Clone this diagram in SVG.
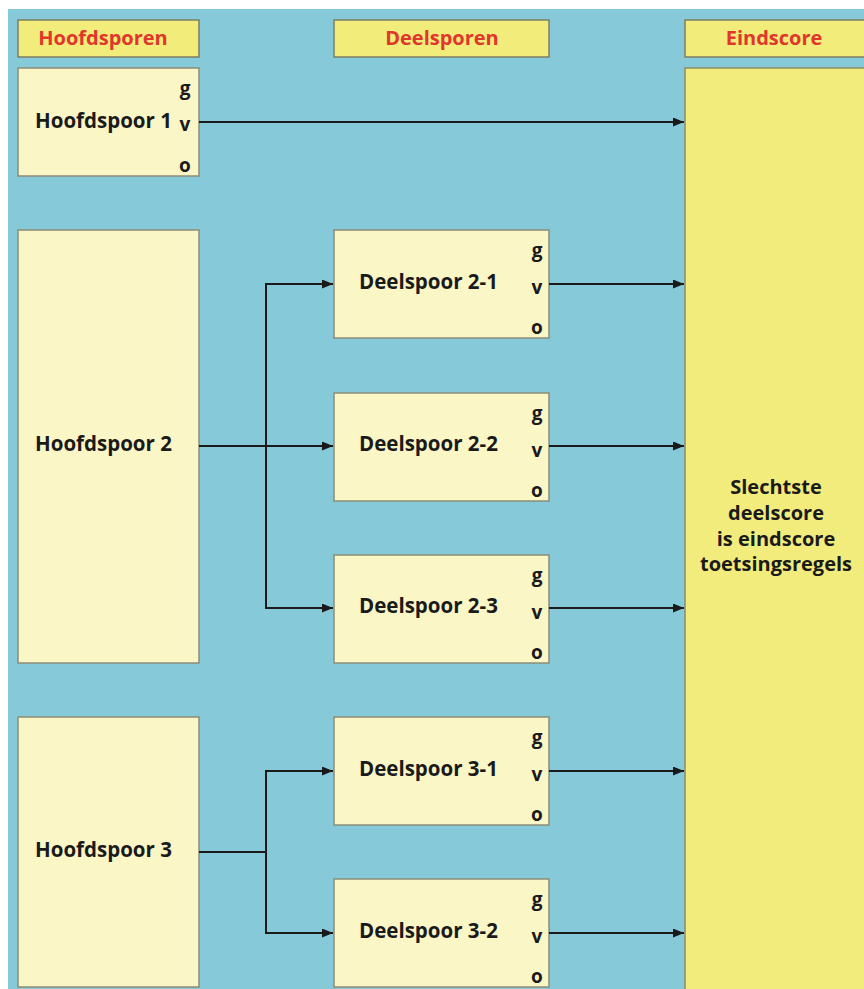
<svg xmlns="http://www.w3.org/2000/svg" width="864" height="989" viewBox="0 0 864 989">
<defs>
<marker id="arr" markerWidth="11" markerHeight="9" refX="11" refY="4.5" orient="auto" markerUnits="userSpaceOnUse">
<path d="M0,0 L11,4.5 L0,9 Z" fill="#1a1a1a"/>
</marker>
<style>
.bg{fill:#86CAD9}
.hdr{fill:#F2EC7A;stroke:#7d7d62;stroke-width:1.5}
.box{fill:#FAF6C6;stroke:#8c8c78;stroke-width:1.5}
.end{fill:#F2EC7C;stroke:#8c8c68;stroke-width:1.5}
.ht{font-family:"Open Sans","Liberation Sans",sans-serif;font-weight:700;font-size:20px;fill:#E0362C;text-anchor:middle}
.t{font-family:"Open Sans","Liberation Sans",sans-serif;font-weight:700;font-size:20.5px;fill:#1a1a1a}
.l{font-family:"Open Sans","Liberation Sans",sans-serif;font-weight:700;font-size:19px;fill:#1a1a1a;text-anchor:middle}
.e{font-family:"Open Sans","Liberation Sans",sans-serif;font-weight:700;font-size:20px;fill:#1a1a1a;text-anchor:middle}
.c{fill:none;stroke:#1a1a1a;stroke-width:2}
</style>
</defs>
<rect width="864" height="989" fill="#ffffff"/>
<rect class="bg" x="8" y="9" width="856" height="980"/>

<g id="hdr-hoofdsporen"><rect class="hdr" x="18" y="20" width="181" height="37"/><text class="ht" x="103" y="45">Hoofdsporen</text></g>
<g id="hdr-deelsporen"><rect class="hdr" x="334" y="20" width="215" height="37"/><text class="ht" x="442" y="45">Deelsporen</text></g>
<g id="hdr-eindscore"><rect class="hdr" x="685" y="20" width="182" height="37"/><text class="ht" x="774" y="45">Eindscore</text></g>

<g id="hoofdspoor1"><rect class="box" x="18" y="68" width="181" height="108"/><text class="t" x="35" y="128">Hoofdspoor 1</text>
<text class="l" x="185" y="95">g</text><text class="l" x="185" y="131">v</text><text class="l" x="185" y="172">o</text></g>
<g id="hoofdspoor2"><rect class="box" x="18" y="230" width="181" height="433"/><text class="t" x="35" y="451">Hoofdspoor 2</text></g>
<g id="hoofdspoor3"><rect class="box" x="18" y="717" width="181" height="270"/><text class="t" x="35" y="857">Hoofdspoor 3</text></g>

<g id="deelspoor21"><rect class="box" x="334" y="230" width="215" height="108"/><text class="t" x="359" y="289">Deelspoor 2-1</text>
<text class="l" x="537" y="257">g</text><text class="l" x="537" y="294">v</text><text class="l" x="537" y="334">o</text></g>
<g id="deelspoor22"><rect class="box" x="334" y="393" width="215" height="108"/><text class="t" x="359" y="451">Deelspoor 2-2</text>
<text class="l" x="537" y="420">g</text><text class="l" x="537" y="457">v</text><text class="l" x="537" y="497">o</text></g>
<g id="deelspoor23"><rect class="box" x="334" y="555" width="215" height="108"/><text class="t" x="359" y="613">Deelspoor 2-3</text>
<text class="l" x="537" y="582">g</text><text class="l" x="537" y="619">v</text><text class="l" x="537" y="659">o</text></g>
<g id="deelspoor31"><rect class="box" x="334" y="717" width="215" height="108"/><text class="t" x="359" y="776">Deelspoor 3-1</text>
<text class="l" x="537" y="744">g</text><text class="l" x="537" y="781">v</text><text class="l" x="537" y="821">o</text></g>
<g id="deelspoor32"><rect class="box" x="334" y="879" width="215" height="108"/><text class="t" x="359" y="938">Deelspoor 3-2</text>
<text class="l" x="537" y="906">g</text><text class="l" x="537" y="943">v</text><text class="l" x="537" y="983">o</text></g>

<g id="eindscore"><rect class="end" x="685" y="68" width="182" height="925"/>
<text class="e" x="776" y="494">Slechtste</text>
<text class="e" x="776" y="520">deelscore</text>
<text class="e" x="776" y="546">is eindscore</text>
<text class="e" x="776" y="571">toetsingsregels</text></g>

<g id="connectors">
<path class="c" d="M199,122 H684" marker-end="url(#arr)"/>
<path class="c" d="M199,446 H333" marker-end="url(#arr)"/>
<path class="c" d="M266,608 V284 H333" marker-end="url(#arr)"/>
<path class="c" d="M266,446 V608 H333" marker-end="url(#arr)"/>
<path class="c" d="M549,284 H684" marker-end="url(#arr)"/>
<path class="c" d="M549,446 H684" marker-end="url(#arr)"/>
<path class="c" d="M549,608 H684" marker-end="url(#arr)"/>
<path class="c" d="M199,852 H266"/>
<path class="c" d="M266,852 V771 H333" marker-end="url(#arr)"/>
<path class="c" d="M266,852 V933 H333" marker-end="url(#arr)"/>
<path class="c" d="M549,771 H684" marker-end="url(#arr)"/>
<path class="c" d="M549,933 H684" marker-end="url(#arr)"/>
</g>
</svg>
